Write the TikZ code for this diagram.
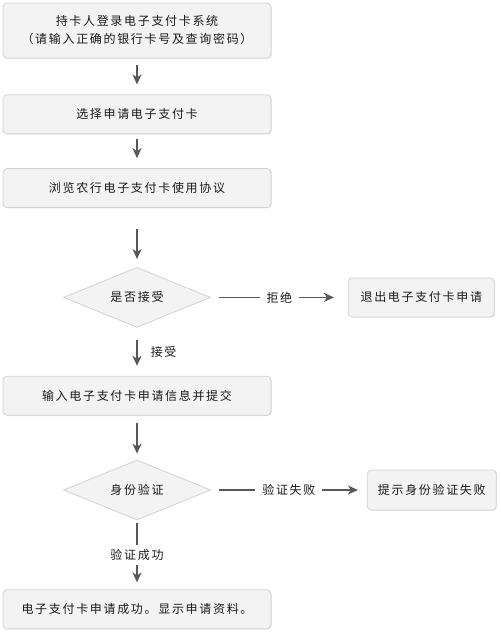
\documentclass[tikz,border=0pt]{standalone}
\usepackage{fontspec}
\setmainfont[LetterSpace=14]{Noto Sans CJK SC}
\usetikzlibrary{shapes,arrows.meta,positioning,shadows}
\definecolor{boxfill}{HTML}{F3F3F3}
\definecolor{boxline}{HTML}{D2D2D2}
\definecolor{arrowgray}{HTML}{585858}
\definecolor{textgray}{HTML}{1A1A1A}
\tikzstyle{process} = [rectangle, draw=boxline, fill=boxfill, line width=0.8pt,
    rounded corners=4pt, minimum width=268pt, minimum height=39pt, text=textgray,
    font=\fontsize{12pt}{18pt}\selectfont, align=center,
    drop shadow={shadow xshift=0.8pt, shadow yshift=-0.8pt, fill=black!15, opacity=0.6}]
\tikzstyle{exitbox} = [process, minimum width=146pt]
\tikzstyle{decision} = [diamond, aspect=2.45, draw=boxline, fill=boxfill, line width=0.8pt,
    minimum width=147pt, minimum height=60pt, inner sep=0pt, text=textgray,
    font=\fontsize{12pt}{18pt}\selectfont]
\tikzstyle{flow} = [draw=arrowgray, line width=1.6pt,
    -{Stealth[length=10pt, width=9pt, inset=3pt]}]
\tikzstyle{flowlabel} = [fill=white, inner xsep=7pt, inner ysep=4pt, text=textgray,
    font=\fontsize{12pt}{18pt}\selectfont]

\begin{document}
\begin{tikzpicture}
    \useasboundingbox (0pt,0pt) rectangle (500pt,-636pt);

    \node[process, minimum height=55pt] (login) at (137pt,-30.5pt)
        {持卡人登录电子支付卡系统\\（请输入正确的银行卡号及查询密码）};
    \node[process, below=36pt of login] (choose) {选择申请电子支付卡};
    \node[process, below=34pt of choose] (browse) {浏览农行电子支付卡使用协议};
    \node[decision, below=59pt of browse] (accept) {是否接受};
    \node[process, below=48pt of accept] (input) {输入电子支付卡申请信息并提交};
    \node[decision, below=44pt of input] (verify) {身份验证};
    \node[process, below=69pt of verify] (success) {电子支付卡申请成功。显示申请资料。};

    \node[exitbox, right=137pt of accept] (quit) {退出电子支付卡申请};
    \node[exitbox, minimum width=129pt, minimum height=40pt,
        right=156pt of verify] (fail) {提示身份验证失败};

    \path[flow, shorten <=7pt, shorten >=10pt] (login) -- (choose);
    \path[flow, shorten <=5pt, shorten >=10pt] (choose) -- (browse);
    \path[flow, shorten <=21pt, shorten >=8pt] (browse) -- (accept);
    \path[flow, shorten <=12pt, shorten >=10pt] (accept) --
        node[flowlabel, right=6pt, fill=none] {接受} (input);
    \path[flow, shorten <=7pt, shorten >=6pt] (input) -- (verify);
    \path[flow, shorten <=3pt, shorten >=7pt] (verify) --
        node[flowlabel] {验证成功} (success);

    \path[flow, shorten <=8pt, shorten >=14pt] (accept) --
        node[flowlabel] {拒绝} (quit);
    \path[flow, shorten <=8pt, shorten >=9pt] (verify) --
        node[flowlabel] {验证失败} (fail);
\end{tikzpicture}
\end{document}
